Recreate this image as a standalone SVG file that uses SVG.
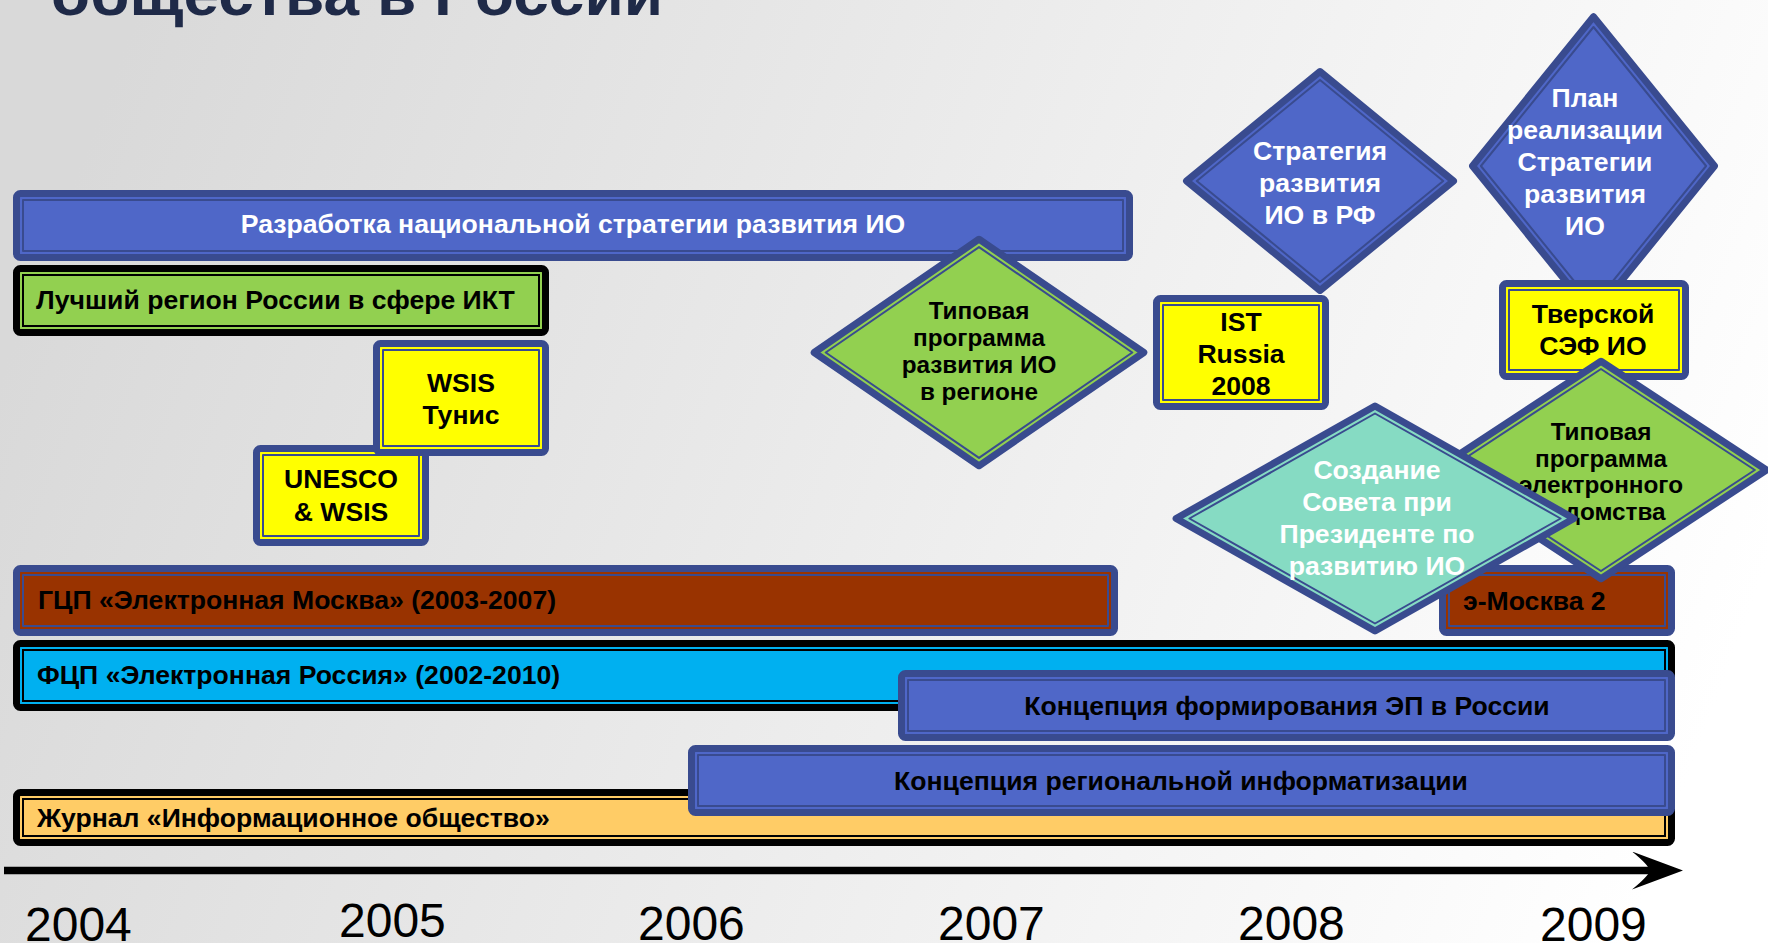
<svg xmlns="http://www.w3.org/2000/svg" width="1768" height="943" viewBox="0 0 1768 943">
<defs>
<linearGradient id="bg" x1="0" y1="0.4" x2="1" y2="0.6">
<stop offset="0" stop-color="#d9d9d9"/>
<stop offset="0.55" stop-color="#eeeeee"/>
<stop offset="1" stop-color="#ffffff"/>
</linearGradient>
<marker id="arrow" markerUnits="userSpaceOnUse" markerWidth="52" markerHeight="38" viewBox="0 0 52 38" refX="18" refY="19" orient="auto">
<path d="M51,19 L0,0 Q16,13 18,19 Q16,25 0,38 Z" fill="#000"/>
</marker>
<style>
.nv{stroke:#394B8F;stroke-width:7;stroke-linejoin:round}
.bk{stroke:#000;stroke-width:7;stroke-linejoin:round}
.inv{fill:none;stroke:#394B8F;stroke-width:2;stroke-linejoin:round}
.ibk{fill:none;stroke:#000;stroke-width:2}
.blue{fill:#4F67C8}.green{fill:#92D050}.yellow{fill:#FFFF00}.brown{fill:#993300}.cyan{fill:#00B0F0}.orange{fill:#FFCC66}.teal{fill:#86DBC3}
.t{font-family:"Liberation Sans",Arial,sans-serif;font-weight:bold;font-size:26.6px}
.s{font-size:24.3px}
.w{fill:#fff}.b{fill:#000}.c{text-anchor:middle}
.yr{font-family:"Liberation Sans",Arial,sans-serif;font-size:48px;fill:#000}
</style>
</defs>
<rect width="1768" height="943" fill="url(#bg)"/>
<text x="51" y="15" font-family="Liberation Sans, Arial, sans-serif" font-weight="bold" font-size="62" fill="#1F2A48" textLength="612" lengthAdjust="spacingAndGlyphs">общества в России</text>

<g id="national-strategy">
<rect class="nv blue" x="16.5" y="193.5" width="1113" height="64" rx="4"/>
<rect class="inv" x="23" y="200" width="1100" height="51"/>
<text class="t w c" x="573" y="233">Разработка национальной стратегии развития ИО</text>
</g>
<g id="best-region">
<rect class="bk green" x="16.5" y="268.5" width="529" height="64" rx="4"/>
<rect class="ibk" x="23" y="275" width="516" height="51"/>
<text class="t b" x="36" y="309">Лучший регион России в сфере ИКТ</text>
</g>
<g id="typical-program-region">
<polygon class="nv green" points="979,239.2 1143.8,352.5 979,465.8 814.2,352.5"/>
<polygon class="inv" points="979,247.1 1132.3,352.5 979,457.9 825.7,352.5"/>
<text class="t s b c" x="979" y="319">Типовая</text>
<text class="t s b c" x="979" y="346">программа</text>
<text class="t s b c" x="979" y="373">развития ИО</text>
<text class="t s b c" x="979" y="400">в регионе</text>
</g>
<g id="unesco-wsis">
<rect class="nv yellow" x="256.5" y="448.5" width="169" height="94" rx="4"/>
<rect class="inv" x="263" y="455" width="156" height="81"/>
<text class="t b c" x="341" y="488">UNESCO</text>
<text class="t b c" x="341" y="521">&amp; WSIS</text>
</g>
<g id="wsis-tunis">
<rect class="nv yellow" x="376.5" y="343.5" width="169" height="109" rx="4"/>
<rect class="inv" x="383" y="350" width="156" height="96"/>
<text class="t b c" x="461" y="392">WSIS</text>
<text class="t b c" x="461" y="424">Тунис</text>
</g>
<g id="ist-russia">
<rect class="nv yellow" x="1156.5" y="298.5" width="169" height="108" rx="4"/>
<rect class="inv" x="1163" y="305" width="156" height="95"/>
<text class="t b c" x="1241" y="331">IST</text>
<text class="t b c" x="1241" y="363">Russia</text>
<text class="t b c" x="1241" y="395">2008</text>
</g>
<g id="strategy-rf">
<polygon class="nv blue" points="1320,71.5 1453.5,181 1320,290.5 1186.5,181"/>
<polygon class="inv" points="1320,80 1443.2,181 1320,282 1196.8,181"/>
<text class="t w c" x="1320" y="160">Стратегия</text>
<text class="t w c" x="1320" y="192">развития</text>
<text class="t w c" x="1320" y="224">ИО в РФ</text>
</g>
<g id="strategy-plan">
<polygon class="nv blue" points="1593.5,16.6 1714.5,166 1593.5,315.4 1472.5,166"/>
<polygon class="inv" points="1593.5,27 1706.1,166 1593.5,305 1480.9,166"/>
<text class="t w c" x="1585" y="107">План</text>
<text class="t w c" x="1585" y="139">реализации</text>
<text class="t w c" x="1585" y="171">Стратегии</text>
<text class="t w c" x="1585" y="203">развития</text>
<text class="t w c" x="1585" y="235">ИО</text>
</g>
<g id="tver-forum">
<rect class="nv yellow" x="1502.5" y="283.5" width="183" height="93" rx="4"/>
<rect class="inv" x="1509" y="290" width="170" height="80"/>
<text class="t b c" x="1593" y="323">Тверской</text>
<text class="t b c" x="1593" y="355">СЭФ ИО</text>
</g>
<g id="e-moscow">
<rect class="nv brown" x="16.5" y="568.5" width="1098" height="64" rx="4"/>
<rect class="inv" x="23" y="575" width="1085" height="51"/>
<text class="t b" x="38" y="609">ГЦП «Электронная Москва» (2003-2007)</text>
</g>
<g id="e-moscow-2">
<rect class="nv brown" x="1442.5" y="568.5" width="229" height="64" rx="4"/>
<rect class="inv" x="1449" y="575" width="216" height="51"/>
<text class="t b" x="1463" y="610">э-Москва 2</text>
</g>
<g id="typical-program-eoffice">
<polygon class="nv green" points="1601,361.2 1766.6,470 1601,578.8 1435.4,470"/>
<polygon class="inv" points="1601,369 1754.8,470 1601,571 1447.2,470"/>
<text class="t s b c" x="1601" y="440">Типовая</text>
<text class="t s b c" x="1601" y="467">программа</text>
<text class="t s b c" x="1601" y="493">электронного</text>
<text class="t s b c" x="1601" y="520">ведомства</text>
</g>
<g id="president-council">
<polygon class="nv teal" points="1375,406 1573.9,518.5 1375,631 1176.1,518.5"/>
<polygon class="inv" points="1375,413.5 1560.6,518.5 1375,623.5 1189.4,518.5"/>
<text class="t w c" x="1377" y="479">Создание</text>
<text class="t w c" x="1377" y="511">Совета при</text>
<text class="t w c" x="1377" y="543">Президенте по</text>
<text class="t w c" x="1377" y="575">развитию ИО</text>
</g>
<g id="e-russia">
<rect class="bk cyan" x="16.5" y="643.5" width="1655" height="64" rx="4"/>
<rect class="ibk" x="23" y="650" width="1642" height="51"/>
<text class="t b" x="37" y="684">ФЦП «Электронная Россия» (2002-2010)</text>
</g>
<g id="egov-concept">
<rect class="nv blue" x="901.5" y="673.5" width="770" height="64" rx="4"/>
<rect class="inv" x="908" y="680" width="757" height="51"/>
<text class="t b c" x="1287" y="715">Концепция формирования ЭП в России</text>
</g>
<g id="journal">
<rect class="bk orange" x="16.5" y="792.5" width="1655" height="50" rx="4"/>
<rect class="ibk" x="23" y="799" width="1642" height="37"/>
<text class="t b" x="37" y="827">Журнал «Информационное общество»</text>
</g>
<g id="regional-concept">
<rect class="nv blue" x="691.5" y="748.5" width="980" height="64" rx="4"/>
<rect class="inv" x="698" y="755" width="967" height="51"/>
<text class="t b c" x="1181" y="790">Концепция региональной информатизации</text>
</g>
<g id="connectors">
<line x1="4" y1="870.5" x2="1650" y2="870.5" stroke="#000" stroke-width="7.5" marker-end="url(#arrow)"/>
</g>
<g id="years">
<text class="yr" x="25" y="941">2004</text>
<text class="yr" x="339" y="937">2005</text>
<text class="yr" x="638" y="940">2006</text>
<text class="yr" x="938" y="940">2007</text>
<text class="yr" x="1238" y="940">2008</text>
<text class="yr" x="1540" y="941">2009</text>
</g>
</svg>
